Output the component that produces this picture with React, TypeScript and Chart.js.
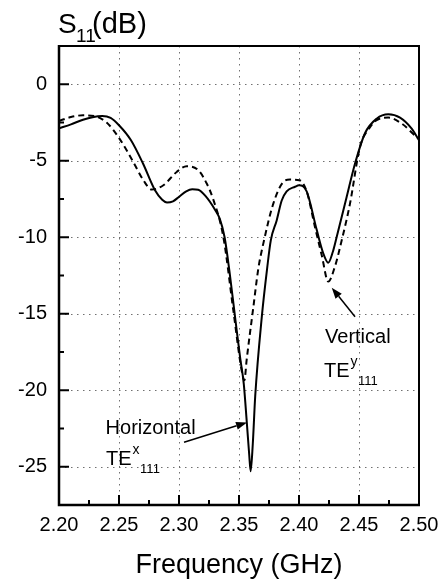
import React, { useEffect, useRef } from "react";
import { Chart, registerables } from "chart.js";

Chart.register(...registerables);

// ---- Data ----
const FREQ_HORIZONTAL = [
  2.2, 2.21, 2.22, 2.228, 2.236, 2.243, 2.25, 2.26, 2.27, 2.28, 2.286, 2.29, 2.295, 2.3, 2.306, 2.311,
  2.316, 2.322, 2.33, 2.334, 2.338, 2.342, 2.347, 2.351, 2.354, 2.3565, 2.3585, 2.3597, 2.3615, 2.3635,
  2.369, 2.3735, 2.3765, 2.3814, 2.3856, 2.3897, 2.3967, 2.4, 2.4064, 2.4147, 2.42, 2.4244, 2.428, 2.4314,
  2.4397, 2.4467, 2.455, 2.4647, 2.4744, 2.4842, 2.4939, 2.5,
];
const S11_HORIZONTAL = [
  -2.88, -2.62, -2.32, -2.15, -2.08, -2.2, -2.68, -3.66, -5.18, -6.93, -7.55, -7.73, -7.65, -7.36, -7.0, -6.86,
  -6.9, -7.3, -8.2, -8.8, -10.0, -12.2, -15.4, -17.9, -19.6, -22.1, -24.2, -25.3, -23.5, -20.4,
  -15.2, -12.0, -10.2, -8.9, -7.6, -7.0, -6.7, -6.6, -7.0, -9.5, -11.0, -11.66, -11.0, -9.98,
  -7.37, -5.18, -3.2, -2.25, -1.96, -2.18, -2.9, -3.66,
];

const FREQ_VERTICAL = [
  2.2, 2.21, 2.22, 2.23, 2.2397, 2.2508, 2.262, 2.2703, 2.2772, 2.287, 2.2981, 2.3064, 2.3161, 2.3231,
  2.3286, 2.337, 2.3453, 2.3522, 2.3545, 2.3564, 2.3619, 2.3661, 2.3703, 2.3786, 2.387, 2.3925, 2.4003,
  2.4064, 2.4133, 2.419, 2.4244, 2.43, 2.4356, 2.4425, 2.4508, 2.4592, 2.4647, 2.4744, 2.4856, 2.498, 2.5,
];
const S11_VERTICAL = [
  -2.4, -2.14, -2.03, -2.09, -2.5, -3.6, -5.1, -6.27, -6.88, -6.6, -5.73, -5.36, -5.62, -6.49,
  -7.54, -10.0, -14.8, -18.7, -19.35, -18.0, -14.6, -12.05, -10.4, -7.8, -6.38, -6.23, -6.27,
  -7.0, -9.33, -11.2, -12.9, -11.9, -10.2, -7.8, -4.1, -2.8, -2.35, -2.18, -2.57, -3.44, -3.55,
];

const X_TICKS = [2.2, 2.25, 2.3, 2.35, 2.4, 2.45, 2.5];
const X_MINOR_TICKS = [2.225, 2.275, 2.325, 2.375, 2.425, 2.475];
const Y_TICKS = [0, -5, -10, -15, -20, -25];
const Y_MINOR_TICKS = [-2.5, -7.5, -12.5, -17.5, -22.5];
const X_RANGE = [2.2, 2.5];
const Y_RANGE = [-27.5, 2.5];

const X_TITLE = "Frequency (GHz)";
const Y_TITLE_MAIN = "S";
const Y_TITLE_SUB = "11";
const Y_TITLE_UNIT = "(dB)";

// annotation anchors in data coordinates (frequency, dB)
const ANNOTATIONS = [
  {
    label: "Horizontal",
    labelAt: [2.2388, -22.83],
    base: "TE",
    sup: "x",
    sub: "111",
    baseAt: [2.2392, -24.9],
    tail: [2.3042, -23.4],
    head: [2.3567, -22.1],
  },
  {
    label: "Vertical",
    labelAt: [2.4217, -16.91],
    base: "TE",
    sup: "y",
    sub: "111",
    baseAt: [2.4208, -19.13],
    tail: [2.4467, -15.2],
    head: [2.4273, -13.3],
  },
];

const FONT = "'Liberation Sans', Arial, Helvetica, sans-serif";

const decorPlugin = {
  id: "decor",
  beforeDatasetsDraw(chart: any) {
    const { ctx, chartArea: a, scales } = chart;
    const xs = scales.x;
    const ys = scales.y;
    ctx.save();
    ctx.strokeStyle = "#707070";
    ctx.lineWidth = 1;
    ctx.setLineDash([1.5, 4.5]);
    for (const v of X_TICKS) {
      const px = Math.round(xs.getPixelForValue(v)) + 0.5;
      if (px <= a.left + 2 || px >= a.right - 2) continue;
      ctx.beginPath();
      ctx.moveTo(px, a.top);
      ctx.lineTo(px, a.bottom);
      ctx.stroke();
    }
    for (const v of Y_TICKS) {
      const py = Math.round(ys.getPixelForValue(v)) + 0.5;
      if (py <= a.top + 2 || py >= a.bottom - 2) continue;
      ctx.beginPath();
      ctx.moveTo(a.left, py);
      ctx.lineTo(a.right, py);
      ctx.stroke();
    }
    ctx.restore();
  },
  afterDatasetsDraw(chart: any) {
    const { ctx, chartArea: a, scales } = chart;
    const xs = scales.x;
    const ys = scales.y;
    ctx.save();
    ctx.setLineDash([]);
    ctx.strokeStyle = "#000";
    ctx.fillStyle = "#000";
    ctx.lineCap = "butt";

    // frame
    ctx.lineWidth = 2;
    ctx.beginPath();
    ctx.moveTo(a.left, a.top);
    ctx.lineTo(a.right, a.top);
    ctx.lineTo(a.right, a.bottom);
    ctx.stroke();
    ctx.lineWidth = 2.5;
    ctx.beginPath();
    ctx.moveTo(a.left, a.top - 1);
    ctx.lineTo(a.left, a.bottom);
    ctx.lineTo(a.right + 1, a.bottom);
    ctx.stroke();

    // inward tick marks
    ctx.lineWidth = 2;
    const tick = (vals: number[], len: number, horiz: boolean) => {
      for (const v of vals) {
        ctx.beginPath();
        if (horiz) {
          const px = xs.getPixelForValue(v);
          ctx.moveTo(px, a.bottom);
          ctx.lineTo(px, a.bottom - len);
        } else {
          const py = ys.getPixelForValue(v);
          ctx.moveTo(a.left, py);
          ctx.lineTo(a.left + len, py);
        }
        ctx.stroke();
      }
    };
    tick(X_TICKS, 10, true);
    tick(X_MINOR_TICKS, 5, true);
    tick(Y_TICKS, 10, false);
    tick(Y_MINOR_TICKS, 5, false);

    // y title  S11(dB)
    ctx.textAlign = "left";
    ctx.textBaseline = "alphabetic";
    ctx.font = `28px ${FONT}`;
    ctx.fillText(Y_TITLE_MAIN, 58, 33);
    ctx.font = `19px ${FONT}`;
    ctx.fillText(Y_TITLE_SUB, 76, 41.5);
    ctx.font = `29px ${FONT}`;
    ctx.fillText(Y_TITLE_UNIT, 92, 33);

    // annotations
    for (const an of ANNOTATIONS) {
      ctx.font = `20px ${FONT}`;
      ctx.fillText(an.label, xs.getPixelForValue(an.labelAt[0]), ys.getPixelForValue(an.labelAt[1]));
      const bx = xs.getPixelForValue(an.baseAt[0]);
      const by = ys.getPixelForValue(an.baseAt[1]);
      ctx.fillText(an.base, bx, by);
      const bw = ctx.measureText(an.base).width;
      ctx.font = `14px ${FONT}`;
      ctx.fillText(an.sup, bx + bw + 1, by - 11);
      const supW = ctx.measureText(an.sup).width;
      ctx.font = `13px ${FONT}`;
      ctx.fillText(an.sub, bx + bw + supW + 1.5, by + 8);

      const x1 = xs.getPixelForValue(an.tail[0]);
      const y1 = ys.getPixelForValue(an.tail[1]);
      const x2 = xs.getPixelForValue(an.head[0]);
      const y2 = ys.getPixelForValue(an.head[1]);
      const ang = Math.atan2(y2 - y1, x2 - x1);
      const hl = 11;
      const hw = 4;
      const bxh = x2 - hl * Math.cos(ang);
      const byh = y2 - hl * Math.sin(ang);
      ctx.lineWidth = 1.5;
      ctx.beginPath();
      ctx.moveTo(x1, y1);
      ctx.lineTo(bxh, byh);
      ctx.stroke();
      ctx.beginPath();
      ctx.moveTo(x2, y2);
      ctx.lineTo(bxh + hw * Math.sin(ang), byh - hw * Math.cos(ang));
      ctx.lineTo(bxh - hw * Math.sin(ang), byh + hw * Math.cos(ang));
      ctx.closePath();
      ctx.fill();
    }
    ctx.restore();
  },
};

export default function App() {
  const canvasRef = useRef<HTMLCanvasElement | null>(null);

  useEffect(() => {
    if (!canvasRef.current) return;
    const chart = new Chart(canvasRef.current, {
      type: "line",
      data: {
        datasets: [
          {
            label: "Horizontal TEx111",
            data: FREQ_HORIZONTAL.map((f, i) => ({ x: f, y: S11_HORIZONTAL[i] })),
            borderColor: "#000",
            borderWidth: 2,
            pointRadius: 0,
            cubicInterpolationMode: "monotone",
            fill: false,
          },
          {
            label: "Vertical TEy111",
            data: FREQ_VERTICAL.map((f, i) => ({ x: f, y: S11_VERTICAL[i] })),
            borderColor: "#000",
            borderWidth: 2,
            borderDash: [6, 4],
            pointRadius: 0,
            cubicInterpolationMode: "monotone",
            fill: false,
          },
        ],
      },
      options: {
        responsive: false,
        maintainAspectRatio: false,
        animation: false,
        layout: { padding: { top: 46, right: 25, left: 0, bottom: 0 } },
        plugins: { legend: { display: false }, tooltip: { enabled: false } },
        scales: {
          x: {
            type: "linear",
            min: X_RANGE[0],
            max: X_RANGE[1],
            grid: { display: false, drawTicks: false },
            border: { display: false },
            afterBuildTicks: (s: any) => {
              s.ticks = X_TICKS.map((v) => ({ value: v }));
            },
            ticks: {
              callback: (v: any) => Number(v).toFixed(2),
              font: { size: 20, family: FONT },
              color: "#000",
              padding: 8,
              maxRotation: 0,
              autoSkip: false,
            },
            title: {
              display: true,
              text: X_TITLE,
              font: { size: 27, family: FONT },
              color: "#000",
              padding: 0,
            },
            afterFit: (s: any) => {
              s.height = 77;
              s.paddingLeft = 0;
              s.paddingRight = 0;
            },
          },
          y: {
            type: "linear",
            min: Y_RANGE[0],
            max: Y_RANGE[1],
            grid: { display: false, drawTicks: false },
            border: { display: false },
            afterBuildTicks: (s: any) => {
              s.ticks = Y_TICKS.map((v) => ({ value: v }));
            },
            ticks: {
              callback: (v: any) => String(v),
              font: { size: 20, family: FONT },
              color: "#000",
              padding: 12,
              autoSkip: false,
            },
            afterFit: (s: any) => {
              s.width = 59;
              s.paddingTop = 0;
              s.paddingBottom = 0;
            },
          },
        },
      },
      plugins: [decorPlugin],
    } as any);
    return () => chart.destroy();
  }, []);

  return (
    <div style={{ position: "absolute", left: 0, top: 0, width: 444, height: 582, background: "#fff" }}>
      <canvas ref={canvasRef} width={444} height={582} style={{ display: "block", width: 444, height: 582 }} />
    </div>
  );
}
